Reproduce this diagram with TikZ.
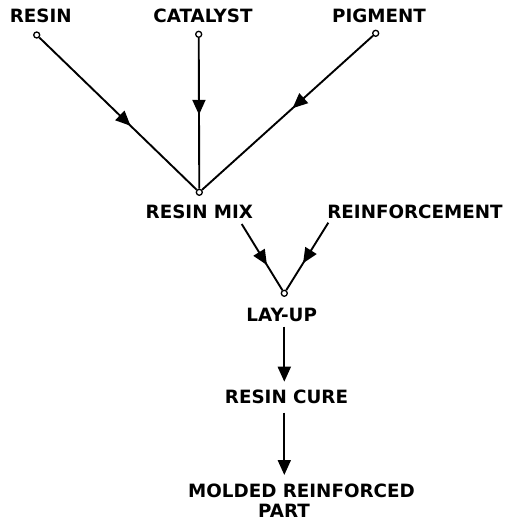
\documentclass[tikz,border=0pt]{standalone}
\usepackage{fontspec}
\setmainfont{DejaVu Sans}
\usetikzlibrary{arrows.meta,decorations.markings}

\begin{document}
\begin{tikzpicture}[x=1pt,y=-1pt,
    lbl/.style={font=\bfseries\fontsize{18.3}{20}\selectfont,anchor=base,inner sep=0pt},
    dot/.style={circle,draw,line width=1.3pt,fill=white,inner sep=0pt,minimum size=6pt},
    flow/.style={line width=1.9pt,postaction={decorate},
      decoration={markings,mark=at position #1 with {\arrow{Triangle[length=15pt,width=13pt]}}}},
    feed/.style={line width=1.9pt,-{Triangle[length=15pt,width=13pt]}}]
  \useasboundingbox (0,0) rectangle (510,521);
  \node[lbl] (resin) at (40.7,22.7) {RESIN};
  \node[lbl] (catalyst) at (203,22.7) {CATALYST};
  \node[lbl] (pigment) at (379,22.7) {PIGMENT};
  \node[lbl] (resinmix) at (199.4,218.3) {RESIN MIX};
  \node[lbl] (reinf) at (415,218.3) {REINFORCEMENT};
  \node[lbl] (layup) at (281.7,321) {LAY-UP};
  \node[lbl] (cure) at (286.5,403) {RESIN CURE};
  \node[lbl] (molded) at (301.5,497.5) {MOLDED REINFORCED};
  \node[lbl] (part) at (284,517.5) {PART};
  \node[dot] (r) at (36.7,35) {};
  \node[dot] (c) at (198.7,34.3) {};
  \node[dot] (p) at (375.7,33.3) {};
  \node[dot] (mix) at (199.3,192.3) {};
  \node[dot] (lay) at (284.3,293.3) {};
  \coordinate (mixout) at (241.7,224);
  \coordinate (reinfout) at (328.3,222.7);
  \coordinate (layout) at (284.3,326.7);
  \coordinate (curein) at (284.3,381.7);
  \coordinate (cureout) at (284.3,412.7);
  \coordinate (partin) at (284.3,475);
  \draw[flow=0.58] (r) -- (mix);
  \draw[flow=0.51] (c) -- (mix);
  \draw[flow=0.47] (p) -- (mix);
  \draw[flow=0.62] (mixout) -- (lay);
  \draw[flow=0.60] (reinfout) -- (lay);
  \draw[feed] (layout) -- (curein);
  \draw[feed] (cureout) -- (partin);
\end{tikzpicture}
\end{document}
